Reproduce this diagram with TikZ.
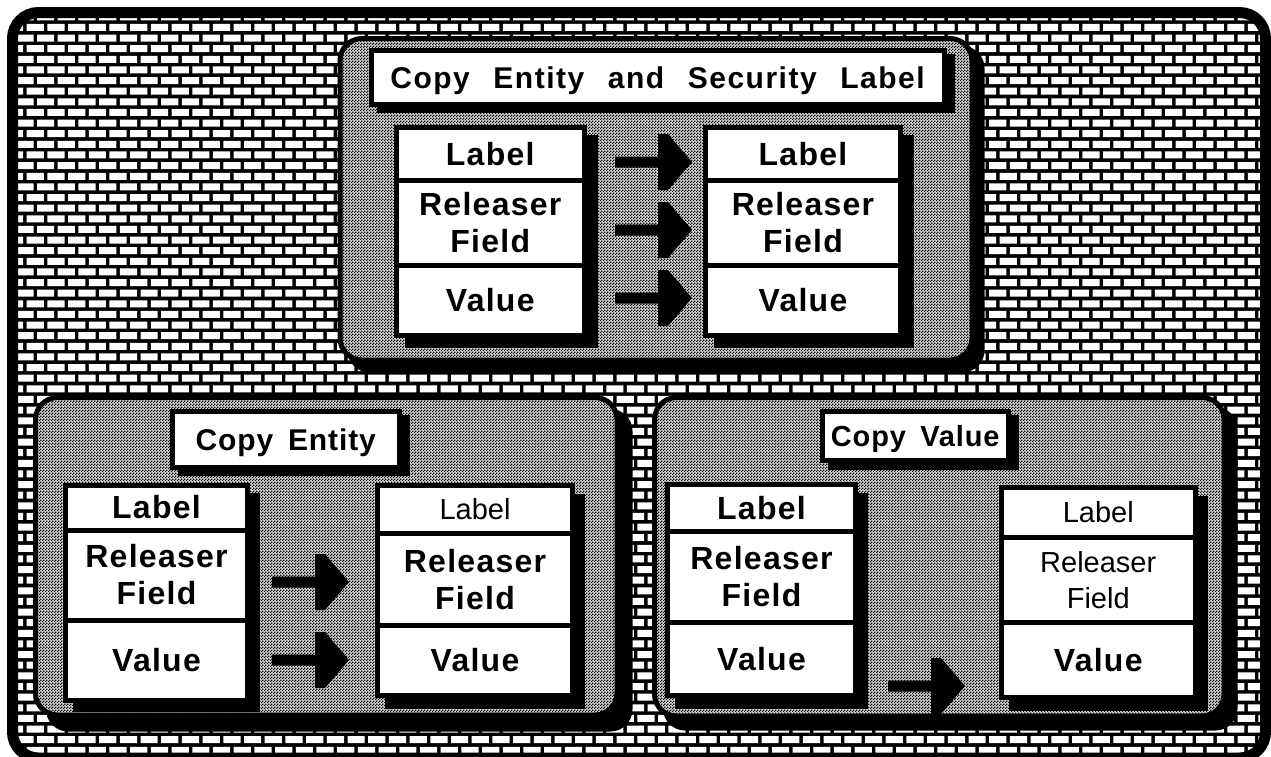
\documentclass[tikz,border=0pt]{standalone}
\usepackage{fontspec}
\setmainfont{Liberation Sans}
\newfontfamily\bigtitlefont{Liberation Sans}[LetterSpace=5, WordSpace=2.4]
\newfontfamily\smalltitlefont{Liberation Sans}[LetterSpace=3, WordSpace=1.6]
\newfontfamily\cellfont{Liberation Sans}[LetterSpace=4]
\usetikzlibrary{patterns}

% fine halftone dots for the panel backgrounds
\pgfdeclarepatternformonly{finechecker}{\pgfqpoint{0pt}{0pt}}{\pgfqpoint{3pt}{3pt}}{\pgfqpoint{3pt}{3pt}}{%
  \pgfpathrectangle{\pgfqpoint{0pt}{0pt}}{\pgfqpoint{1.5pt}{1.5pt}}%
  \pgfpathrectangle{\pgfqpoint{1.5pt}{1.5pt}}{\pgfqpoint{1.5pt}{1.5pt}}%
  \pgfusepath{fill}}

\tikzset{
  panel/.style={preaction={fill=black!18}, pattern=finechecker, pattern color=black,
                draw=black, line width=5pt, rounded corners=22pt},
  panelshade/.style={fill=black, rounded corners=22pt},
  cell/.style={draw=black, fill=white, line width=5pt, inner sep=0pt, outer sep=0pt, align=center},
  boldtxt/.style={font=\cellfont\bfseries\fontsize{32}{37}\selectfont},
  plaintxt/.style={font=\fontsize{29}{36}\selectfont},
  bigtitle/.style={font=\bigtitlefont\bfseries\fontsize{30}{36}\selectfont, text depth=0pt},
  smalltitle/.style={font=\smalltitlefont\bfseries\fontsize{30}{36}\selectfont, text depth=0pt},
  blockarrow/.pic={
    \fill[black] (0,-5.5) -- (43,-5.5) -- (43,-28) -- (53,-28) -- (77,0)
      -- (53,28) -- (43,28) -- (43,5.5) -- (0,5.5) -- cycle;
  }
}

% a framed white cell given by its corner coordinates
\newcommand\cellbox[7][]{%
  \pgfmathsetmacro\bcw{#5-#3}\pgfmathsetmacro\bch{#6-#4}%
  \node[cell, minimum width=\bcw pt, minimum height=\bch pt, #1] (#2)
    at ({(#3+#5)/2},{(#4+#6)/2}) {#7};}

\begin{document}
\begin{tikzpicture}[x=1pt, y=-1pt]
\useasboundingbox (0,0) rectangle (1271,756);

% brick wall background
\begin{scope}
  \clip[rounded corners=26pt] (12.5,12.5) rectangle (1265.5,758);
  \fill[black] (0,0) rectangle (1271,760);
  \fill[white] \foreach \r in {0,...,70}{
      \foreach \c in {0,...,62}{
        ({-4.4-10.35*mod(\r,2)+20.7*\c},{13.3+10.63*\r}) rectangle ++(17.2,7)
      }};
\end{scope}
\draw[line width=11pt, rounded corners=26pt] (12.5,12.5) rectangle (1265.5,758);

% ---------- top panel: copy entity and security label ----------
\fill[panelshade] (347.5,46) rectangle (984.5,372.5);
\path[panel] (340,38.5) rectangle (972,360);

\fill[black] (376.5,54) rectangle (954.5,113);
\cellbox[bigtitle]{ttitle}{371}{50.5}{944}{104.5}{Copy Entity and Security Label}

\fill[black] (404.5,135) rectangle (598,348);
\cellbox[boldtxt]{tlA}{396}{127.5}{584.5}{180.5}{Label}
\cellbox[boldtxt]{tlB}{396}{180.5}{584.5}{265.5}{Releaser\\Field}
\cellbox[boldtxt]{tlC}{396}{265.5}{584.5}{335.5}{Value}

\fill[black] (714,135) rectangle (914,348);
\cellbox[boldtxt]{trA}{705.5}{127.5}{900.5}{180.5}{Label}
\cellbox[boldtxt]{trB}{705.5}{180.5}{900.5}{265.5}{Releaser\\Field}
\cellbox[boldtxt]{trC}{705.5}{265.5}{900.5}{335.5}{Value}

\pic (ta1) at (615,162) {blockarrow};
\pic (ta2) at (615,230) {blockarrow};
\pic (ta3) at (615,298) {blockarrow};

% ---------- bottom left panel: copy entity ----------
\fill[panelshade] (46,409) rectangle (632.5,731.5);
\path[panel] (35.5,397.5) rectangle (617,715);

\fill[black] (178,415) rectangle (409.5,475.5);
\cellbox[smalltitle]{ltitle}{172.5}{411.5}{399}{467}{Copy Entity}

\fill[black] (73,492.5) rectangle (260,712);
\cellbox[boldtxt]{llA}{65.5}{485}{247.5}{530}{Label}
\cellbox[boldtxt]{llB}{65.5}{530}{247.5}{620}{Releaser\\Field}
\cellbox[boldtxt]{llC}{65.5}{620}{247.5}{700}{Value}

\fill[black] (385,494) rectangle (585,709);
\cellbox[plaintxt]{lrA}{377.5}{485.5}{572.5}{533}{Label}
\cellbox[boldtxt]{lrB}{377.5}{533}{572.5}{625.5}{Releaser\\Field}
\cellbox[boldtxt]{lrC}{377.5}{625.5}{572.5}{695.5}{Value}

\pic (la1) at (272,582) {blockarrow};
\pic (la2) at (272,660) {blockarrow};

% ---------- bottom right panel: copy value ----------
\fill[panelshade] (663,407) rectangle (1237.5,730.5);
\path[panel] (654.5,397.5) rectangle (1224,716);

\fill[black] (828,415) rectangle (1018.5,470);
\cellbox[smalltitle, font=\smalltitlefont\bfseries\fontsize{29}{36}\selectfont]{rtitle}{822.5}{411.5}{1008}{460.5}{Copy Value}

\fill[black] (675,493) rectangle (868,709);
\cellbox[boldtxt]{rlA}{667.5}{484.5}{855.5}{531}{Label}
\cellbox[boldtxt]{rlB}{667.5}{531}{855.5}{622.5}{Releaser\\Field}
\cellbox[boldtxt]{rlC}{667.5}{622.5}{855.5}{695.5}{Value}

\fill[black] (1008.5,496) rectangle (1208,711);
\cellbox[plaintxt]{rrA}{1001}{487.5}{1195.5}{537.5}{Label}
\cellbox[plaintxt]{rrB}{1001}{537.5}{1195.5}{622.5}{Releaser\\Field}
\cellbox[boldtxt]{rrC}{1001}{622.5}{1195.5}{697.5}{Value}

\pic (ra1) at (888,686) {blockarrow};
\end{tikzpicture}
\end{document}
